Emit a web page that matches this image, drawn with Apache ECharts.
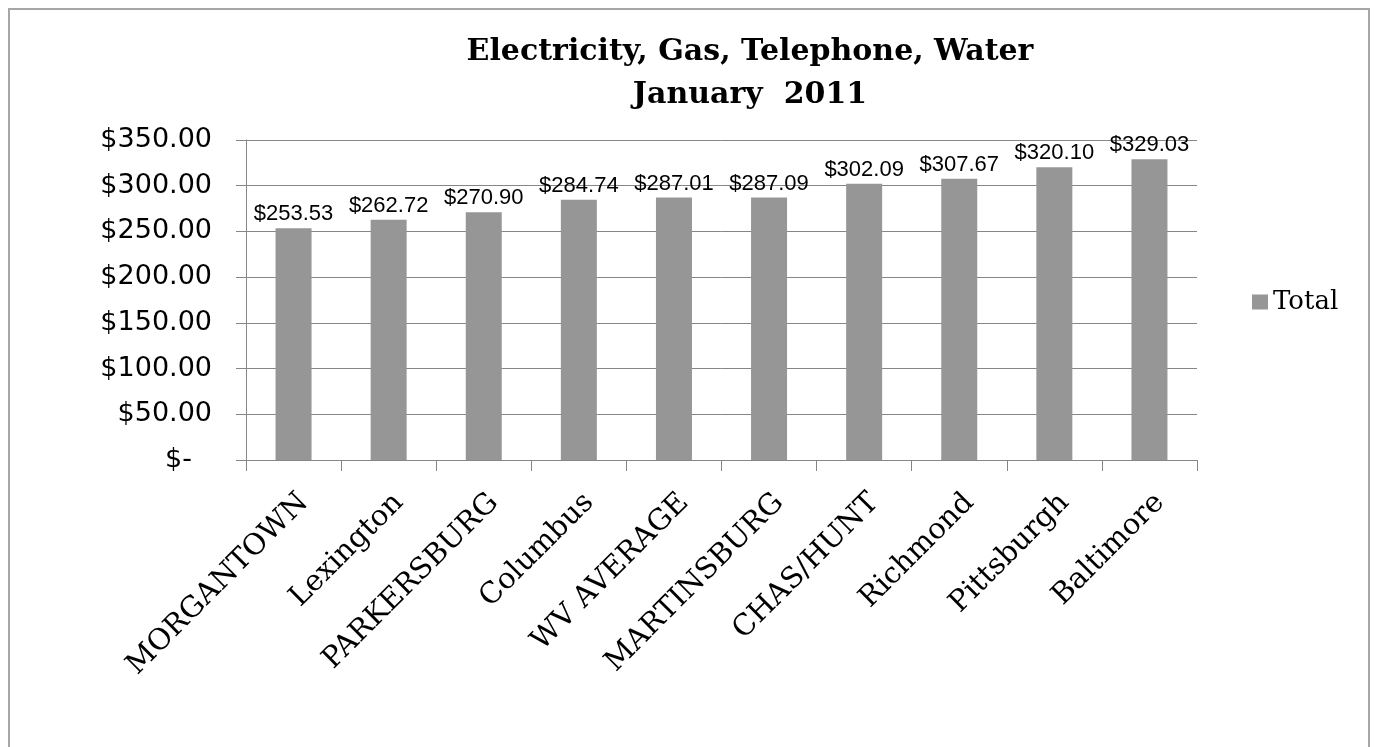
<!DOCTYPE html>
<html>
<head>
<meta charset="utf-8">
<script src="https://cdn.jsdelivr.net/npm/echarts@6/dist/echarts.min.js"></script>
<style>
html,body{margin:0;padding:0;background:#fff;}
#chart{width:1377px;height:747px;}
</style>
</head>
<body>
<div id="chart"></div>
<script>
const categories = ["MORGANTOWN","Lexington","PARKERSBURG","Columbus","WV AVERAGE","MARTINSBURG","CHAS/HUNT","Richmond","Pittsburgh","Baltimore"];
const totals = [253.53, 262.72, 270.90, 284.74, 287.01, 287.09, 302.09, 307.67, 320.10, 329.03];
const yTicks = {min: 0, max: 350, interval: 50};
const titleText = "Electricity, Gas, Telephone, Water\nJanuary  2011";
const seriesName = "Total";

const chart = echarts.init(document.getElementById('chart'));
const gridColor = '#868686';
chart.setOption({
  backgroundColor: '#ffffff',
  animation: false,
  graphic: [{
    type: 'rect', silent: true, z: -1,
    shape: {x: 9, y: 9, width: 1360, height: 800},
    style: {fill: 'none', stroke: '#a6a6a6', lineWidth: 2}
  }],
  title: {
    text: titleText,
    left: 750, top: 31, padding: 0,
    textAlign: 'center',
    textStyle: {fontFamily: 'DejaVu Serif', fontWeight: 'bold', fontSize: 30, lineHeight: 43, color: '#000'}
  },
  legend: {
    data: [seriesName],
    left: 1247, top: 284, orient: 'vertical',
    icon: 'rect', itemWidth: 16, itemHeight: 15,
    textStyle: {fontFamily: 'DejaVu Serif', fontSize: 26, color: '#000'}
  },
  grid: {left: 246, right: 180, top: 140, bottom: 287, containLabel: false},
  xAxis: {
    type: 'category', data: categories,
    axisLine: {show: true, lineStyle: {color: gridColor, width: 1}},
    axisTick: {show: true, alignWithLabel: false, length: 11, lineStyle: {color: gridColor}},
    axisLabel: {
      interval: 0, rotate: 45, margin: 28, verticalAlign: 'top',
      fontFamily: 'DejaVu Serif', fontSize: 29, color: '#000'
    }
  },
  yAxis: {
    type: 'value', min: yTicks.min, max: yTicks.max, interval: yTicks.interval,
    axisLine: {show: true, lineStyle: {color: gridColor, width: 1}},
    axisTick: {show: true, length: 10, lineStyle: {color: gridColor}},
    splitLine: {show: true, lineStyle: {color: gridColor, width: 1}},
    axisLabel: {
      margin: 34, fontFamily: 'DejaVu Sans', fontSize: 27, color: '#000',
      formatter: function (v) { return v === 0 ? '{z|$-}' : '$' + v.toFixed(2); },
      rich: {z: {fontFamily: 'DejaVu Sans', fontSize: 27, color: '#000', padding: [0, 20, 0, 0]}}
    }
  },
  series: [{
    name: seriesName, type: 'bar', data: totals, barWidth: 36,
    itemStyle: {color: '#969696'},
    label: {
      show: true, position: 'top', distance: 3,
      fontFamily: 'Liberation Sans', fontSize: 22, color: '#000',
      formatter: function (p) { return '$' + p.value.toFixed(2); }
    }
  }]
});
</script>
</body>
</html>
